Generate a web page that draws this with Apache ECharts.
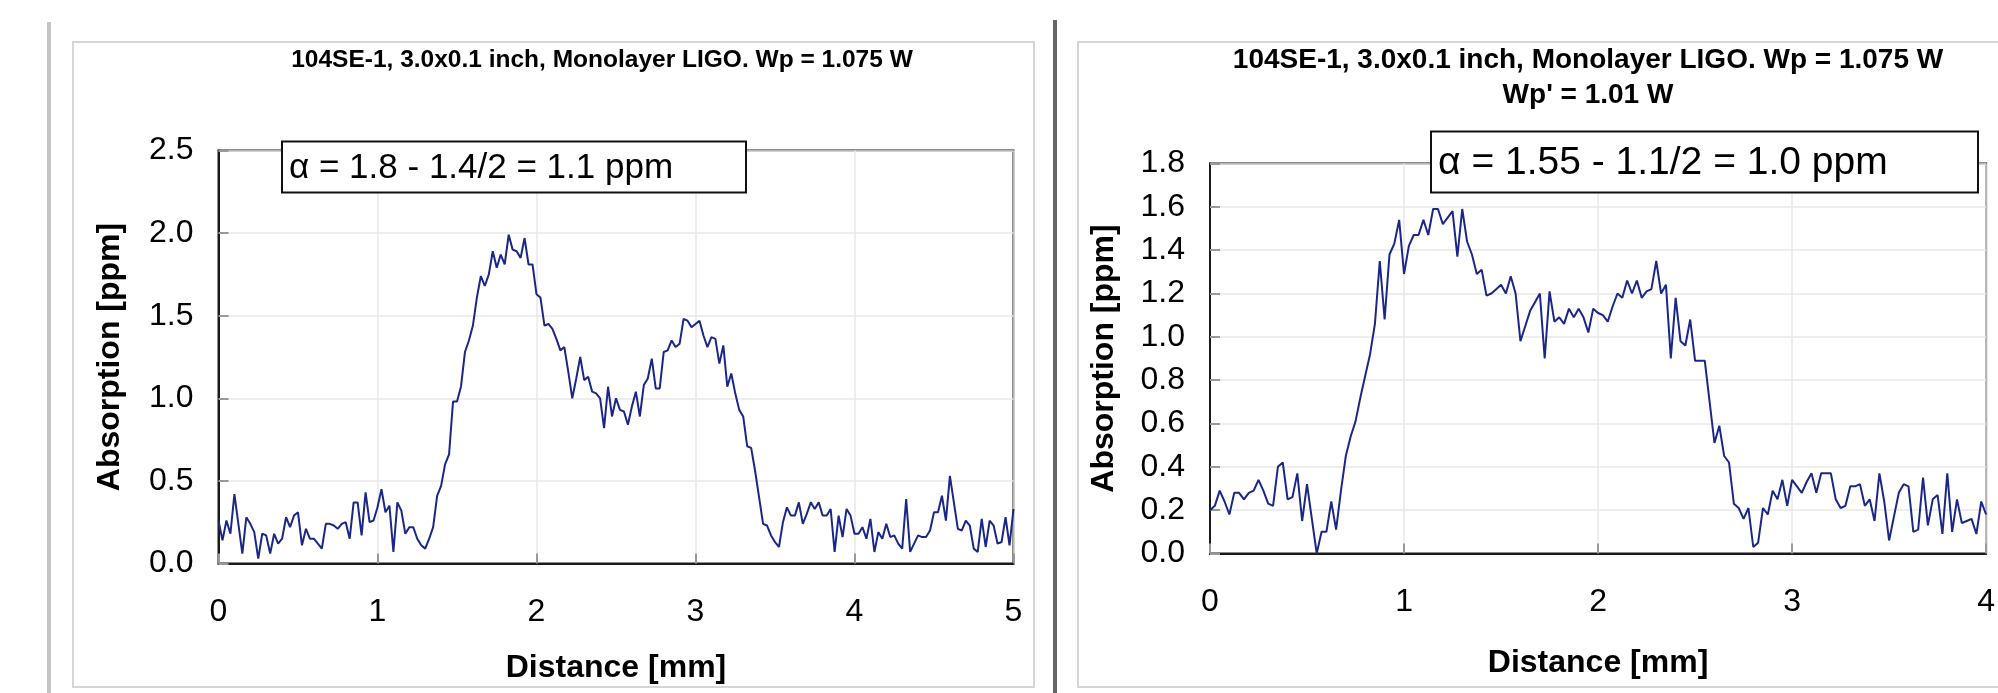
<!DOCTYPE html>
<html>
<head>
<meta charset="utf-8">
<script src="https://cdn.jsdelivr.net/npm/echarts/dist/echarts.min.js"></script>
<style>
  html, body { margin: 0; padding: 0; background: #fff; }
  #main { width: 1998px; height: 693px; }
</style>
</head>
<body>
<div id="main"></div>
<script>
// sample spacing along the scan, mm
var step = 0.025;

// left panel: 0 .. 5 mm
var leftTitle = '104SE-1, 3.0x0.1 inch, Monolayer LIGO. Wp = 1.075 W';
var leftNote = '\u03b1 = 1.8 - 1.4/2 = 1.1 ppm';
var leftAbs = [
  0.26, 0.14, 0.26, 0.18, 0.42, 0.24, 0.06, 0.28, 0.24, 0.19,
  0.03, 0.18, 0.17, 0.06, 0.18, 0.12, 0.15, 0.28, 0.22, 0.29,
  0.31, 0.11, 0.21, 0.15, 0.15, 0.12, 0.09, 0.24, 0.24, 0.23,
  0.21, 0.24, 0.25, 0.15, 0.37, 0.37, 0.17, 0.43, 0.25, 0.26,
  0.34, 0.45, 0.31, 0.35, 0.07, 0.37, 0.32, 0.18, 0.22, 0.22,
  0.15, 0.11, 0.09, 0.15, 0.22, 0.41, 0.47, 0.60, 0.66, 0.98,
  0.98, 1.07, 1.28, 1.35, 1.44, 1.61, 1.74, 1.68, 1.75, 1.89,
  1.79, 1.87, 1.81, 1.99, 1.90, 1.89, 1.85, 1.97, 1.81, 1.81,
  1.63, 1.61, 1.44, 1.45, 1.42, 1.36, 1.29, 1.31, 1.16, 1.00,
  1.12, 1.25, 1.11, 1.13, 1.04, 1.03, 1.00, 0.82, 1.07, 0.89,
  1.00, 0.93, 0.92, 0.84, 0.95, 1.04, 0.89, 1.08, 1.12, 1.24,
  1.06, 1.06, 1.28, 1.29, 1.35, 1.31, 1.33, 1.48, 1.47, 1.43,
  1.45, 1.47, 1.38, 1.31, 1.37, 1.36, 1.21, 1.32, 1.07, 1.15,
  1.03, 0.93, 0.89, 0.71, 0.70, 0.56, 0.40, 0.24, 0.23, 0.17,
  0.13, 0.10, 0.25, 0.34, 0.29, 0.29, 0.37, 0.24, 0.30, 0.37,
  0.33, 0.37, 0.29, 0.29, 0.33, 0.07, 0.29, 0.16, 0.33, 0.29,
  0.18, 0.18, 0.22, 0.15, 0.27, 0.07, 0.19, 0.15, 0.24, 0.16,
  0.17, 0.12, 0.09, 0.39, 0.07, 0.12, 0.17, 0.16, 0.16, 0.20,
  0.31, 0.31, 0.41, 0.26, 0.53, 0.37, 0.21, 0.20, 0.26, 0.23,
  0.09, 0.07, 0.27, 0.10, 0.26, 0.23, 0.12, 0.13, 0.28, 0.11,
  0.33
];

// right panel: 0 .. 4 mm
var rightTitle = ['104SE-1, 3.0x0.1 inch, Monolayer LIGO. Wp = 1.075 W', "Wp' = 1.01 W"];
var rightNote = '\u03b1 = 1.55 - 1.1/2 = 1.0 ppm';
var rightAbs = [
  0.20, 0.22, 0.29, 0.24, 0.18, 0.28, 0.28, 0.25, 0.28, 0.29,
  0.34, 0.29, 0.23, 0.22, 0.40, 0.42, 0.25, 0.26, 0.37, 0.15,
  0.32, 0.16, 0.00, 0.10, 0.10, 0.24, 0.11, 0.29, 0.45, 0.54,
  0.61, 0.72, 0.82, 0.92, 1.06, 1.35, 1.08, 1.38, 1.43, 1.54,
  1.29, 1.42, 1.47, 1.47, 1.54, 1.47, 1.59, 1.59, 1.52, 1.55,
  1.58, 1.37, 1.59, 1.44, 1.38, 1.29, 1.31, 1.19, 1.20, 1.22,
  1.24, 1.20, 1.28, 1.20, 0.98, 1.05, 1.12, 1.16, 1.20, 0.90,
  1.21, 1.07, 1.09, 1.06, 1.13, 1.09, 1.13, 1.09, 1.02, 1.13,
  1.11, 1.10, 1.07, 1.14, 1.20, 1.18, 1.26, 1.20, 1.26, 1.18,
  1.21, 1.22, 1.35, 1.20, 1.24, 0.90, 1.18, 0.98, 0.96, 1.08,
  0.89, 0.89, 0.89, 0.70, 0.51, 0.59, 0.45, 0.42, 0.23, 0.21,
  0.16, 0.21, 0.03, 0.05, 0.21, 0.18, 0.29, 0.25, 0.34, 0.22,
  0.34, 0.31, 0.28, 0.33, 0.37, 0.28, 0.37, 0.37, 0.37, 0.25,
  0.21, 0.22, 0.31, 0.31, 0.32, 0.22, 0.25, 0.15, 0.37, 0.24,
  0.06, 0.17, 0.28, 0.32, 0.31, 0.10, 0.11, 0.35, 0.13, 0.25,
  0.27, 0.09, 0.37, 0.10, 0.25, 0.14, 0.15, 0.16, 0.09, 0.24,
  0.18
];

var xName = 'Distance [mm]';
var yName = 'Absorption [ppm]';

function pairs(vals) {
  return vals.map(function (v, i) { return [+(i * step).toFixed(3), v]; });
}

var FONT = '"Liberation Sans", Arial, sans-serif';
var lineColor = '#1b2788';

function xAxisCfg(idx, max, gap) {
  return {
    gridIndex: idx, type: 'value', min: 0, max: max, interval: 1,
    name: xName, nameLocation: 'middle', nameGap: gap,
    nameTextStyle: { fontFamily: FONT, fontSize: 32, fontWeight: 'bold', color: '#000' },
    axisLine: { lineStyle: { color: '#1a1a1a', width: 2 } },
    axisTick: { inside: true, length: 10, lineStyle: { color: '#999', width: 2 } },
    axisLabel: { margin: 33, fontFamily: FONT, fontSize: 32, color: '#000' },
    splitLine: { show: true, lineStyle: { color: '#e8e8e8', width: 1.5 } }
  };
}

function yAxisCfg(idx, max, interval, gap) {
  return {
    gridIndex: idx, type: 'value', min: 0, max: max, interval: interval,
    name: yName, nameLocation: 'middle', nameGap: gap,
    nameTextStyle: { fontFamily: FONT, fontSize: 32, fontWeight: 'bold', color: '#000' },
    axisLine: { show: true, lineStyle: { color: '#1a1a1a', width: 2 } },
    axisTick: { show: true, inside: true, length: 10, lineStyle: { color: '#999', width: 2 } },
    axisLabel: { margin: 25, fontFamily: FONT, fontSize: 32, color: '#000',
      formatter: function (v) { return v.toFixed(1); } },
    splitLine: { show: true, lineStyle: { color: '#e8e8e8', width: 1.5 } }
  };
}

var option = {
  backgroundColor: '#fff',
  animation: false,
  grid: [
    { left: 218.5, top: 150.5, width: 795, height: 413, show: true,
      borderColor: '#1a1a1a', borderWidth: 2, backgroundColor: '#fff' },
    { left: 1210, top: 163.5, width: 787, height: 390, show: true,
      borderColor: '#1a1a1a', borderWidth: 2, backgroundColor: '#fff' }
  ],
  xAxis: [xAxisCfg(0, 5, 89), xAxisCfg(1, 4, 94)],
  yAxis: [yAxisCfg(0, 2.5, 0.5, 92), yAxisCfg(1, 1.8, 0.2, 90)],
  series: [
    { type: 'line', xAxisIndex: 0, yAxisIndex: 0, data: pairs(leftAbs),
      showSymbol: false, lineStyle: { color: lineColor, width: 2 } },
    { type: 'line', xAxisIndex: 1, yAxisIndex: 1, data: pairs(rightAbs),
      showSymbol: false, lineStyle: { color: lineColor, width: 2 } }
  ],
  graphic: [
    // page frames
    { type: 'line', z: 1, shape: { x1: 49, y1: 22, x2: 49, y2: 693 }, style: { stroke: '#c4c4c4', lineWidth: 4 } },
    { type: 'rect', z: 1, shape: { x: 73, y: 42, width: 961, height: 645 }, style: { fill: null, stroke: '#d6d6d6', lineWidth: 2 } },
    { type: 'line', z: 1, shape: { x1: 1055, y1: 20, x2: 1055, y2: 693 }, style: { stroke: '#666', lineWidth: 4 } },
    { type: 'rect', z: 1, shape: { x: 1078, y: 42, width: 940, height: 645 }, style: { fill: null, stroke: '#d6d6d6', lineWidth: 2 } },
    // titles
    { type: 'text', z: 10, x: 602, y: 60, style: { text: leftTitle, fill: '#000', align: 'center', verticalAlign: 'middle',
      font: 'bold 24.5px ' + FONT } },
    { type: 'text', z: 10, x: 1588, y: 60, style: { text: rightTitle[0], fill: '#000', align: 'center', verticalAlign: 'middle',
      font: 'bold 28px ' + FONT } },
    { type: 'text', z: 10, x: 1588, y: 95, style: { text: rightTitle[1], fill: '#000', align: 'center', verticalAlign: 'middle',
      font: 'bold 28px ' + FONT } },
    // annotation boxes
    { type: 'rect', z: 100, shape: { x: 282, y: 141.5, width: 464, height: 51 }, style: { fill: '#fff', stroke: '#111', lineWidth: 2 } },
    { type: 'text', z: 101, x: 289, y: 168, style: { text: leftNote, fill: '#000', align: 'left', verticalAlign: 'middle',
      font: '35px ' + FONT } },
    { type: 'rect', z: 100, shape: { x: 1431, y: 131.5, width: 547, height: 61 }, style: { fill: '#fff', stroke: '#111', lineWidth: 2 } },
    { type: 'text', z: 101, x: 1438, y: 163, style: { text: rightNote, fill: '#000', align: 'left', verticalAlign: 'middle',
      font: '39px ' + FONT } }
  ]
};

var myChart = echarts.init(document.getElementById('main'));
myChart.setOption(option);
</script>
</body>
</html>
